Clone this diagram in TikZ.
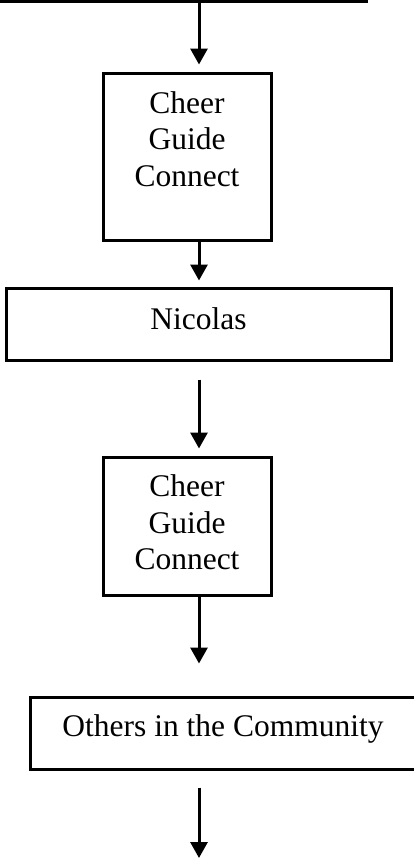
\documentclass[tikz,border=0pt]{standalone}
\usepackage{fontspec}
\setmainfont{Liberation Serif}
\usetikzlibrary{arrows.meta}
\tikzset{
  flowbox/.style={draw,line width=3pt,inner sep=0pt,font=\fontsize{31.5}{36.5}\selectfont},
  flowarrow/.style={line width=3pt,-{Triangle[width=17pt,length=16pt]}}
}
\begin{document}
\begin{tikzpicture}[x=1pt,y=-1pt]
\useasboundingbox (0,0) rectangle (414,860);
\coordinate (topl) at (0,1);
\coordinate (topr) at (368,1);
\coordinate (ax) at (199,1);
\coordinate (bottom) at (199,858);
\draw[line width=3pt] (topl)--(topr);
\node[flowbox] (cgc1) at (187,156.5) {\parbox[c][167pt][t]{168pt}{\centering\rule{0pt}{40pt}Cheer\\Guide\\Connect}};
\node[flowbox,minimum width=385pt,minimum height=72pt,text height=20pt,text depth=10pt] (nico) at (198.5,324) {Nicolas};
\node[flowbox] (cgc2) at (187,526) {\parbox[c][138pt][t]{168pt}{\centering\rule{0pt}{39.7pt}Cheer\\Guide\\Connect}};
\node[flowbox,minimum width=386pt,minimum height=72pt,text height=20pt,text depth=12.6pt] (others) at (223,733) {Others in the Community};
\draw[flowarrow,shorten >=7pt] (ax)--(cgc1.north -| ax);
\draw[flowarrow,shorten >=6pt] (cgc1.south -| ax)--(nico.north -| ax);
\draw[flowarrow,shorten <=18pt,shorten >=7pt] (nico.south -| ax)--(cgc2.north -| ax);
\draw[flowarrow,shorten >=32pt] (cgc2.south -| ax)--(others.north -| ax);
\draw[flowarrow,shorten <=17pt] (others.south -| ax)--(bottom);
\end{tikzpicture}
\end{document}
